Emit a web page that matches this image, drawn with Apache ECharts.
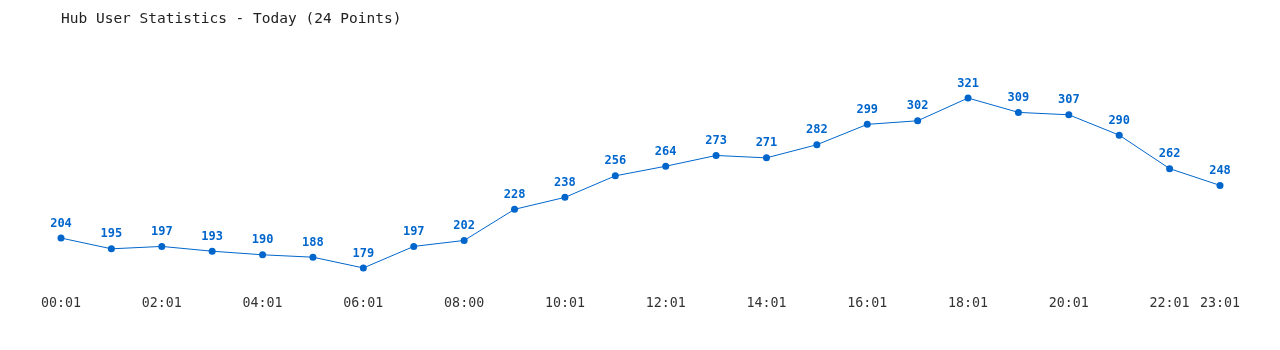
<!DOCTYPE html>
<html><head><meta charset="utf-8">
<script src="https://cdn.jsdelivr.net/npm/echarts@6/dist/echarts.min.js"></script>
<style>html,body{margin:0;padding:0;background:#fff}#c{width:1280px;height:350px}</style>
</head><body><div id="c"></div>
<script>
const categories = ['00:01','01:01','02:01','03:01','04:01','05:01','06:01','07:01','08:00','09:01','10:01','11:01','12:01','13:01','14:01','15:01','16:01','17:01','18:01','19:01','20:01','21:01','22:01','23:01'];
const users = [204,195,197,193,190,188,179,197,202,228,238,256,264,273,271,282,299,302,321,309,307,290,262,248];
const titleText = 'Hub User Statistics - Today (24 Points)';
const font = '"DejaVu Sans Mono", "Liberation Mono", monospace';
const chart = echarts.init(document.getElementById('c'));
chart.setOption({
  animation: false,
  title: { text: titleText, left: 56, top: 7, textStyle: { fontFamily: font, fontSize: 14.5, fontWeight: 'normal', color: '#222' } },
  grid: { left: 61, right: 60, top: 75.3, bottom: 59.3, containLabel: false },
  xAxis: {
    type: 'category', data: categories, boundaryGap: false,
    axisLine: { show: false }, axisTick: { show: false },
    axisLabel: { interval: (i) => i % 2 === 0 || i === categories.length - 1, margin: 6, fontFamily: font, fontSize: 13.3, color: '#333' }
  },
  yAxis: { type: 'value', min: 160, max: 340, show: false, splitLine: { show: false } },
  series: [{
    type: 'line', data: users, color: '#0066cc',
    lineStyle: { width: 1, color: '#0066cc' },
    symbol: 'circle', symbolSize: 7, itemStyle: { color: '#0066cc' },
    label: { show: true, position: 'top', distance: 5, fontFamily: font, fontSize: 12, fontWeight: 'bold', color: '#0066cc' }
  }]
});
</script></body></html>
